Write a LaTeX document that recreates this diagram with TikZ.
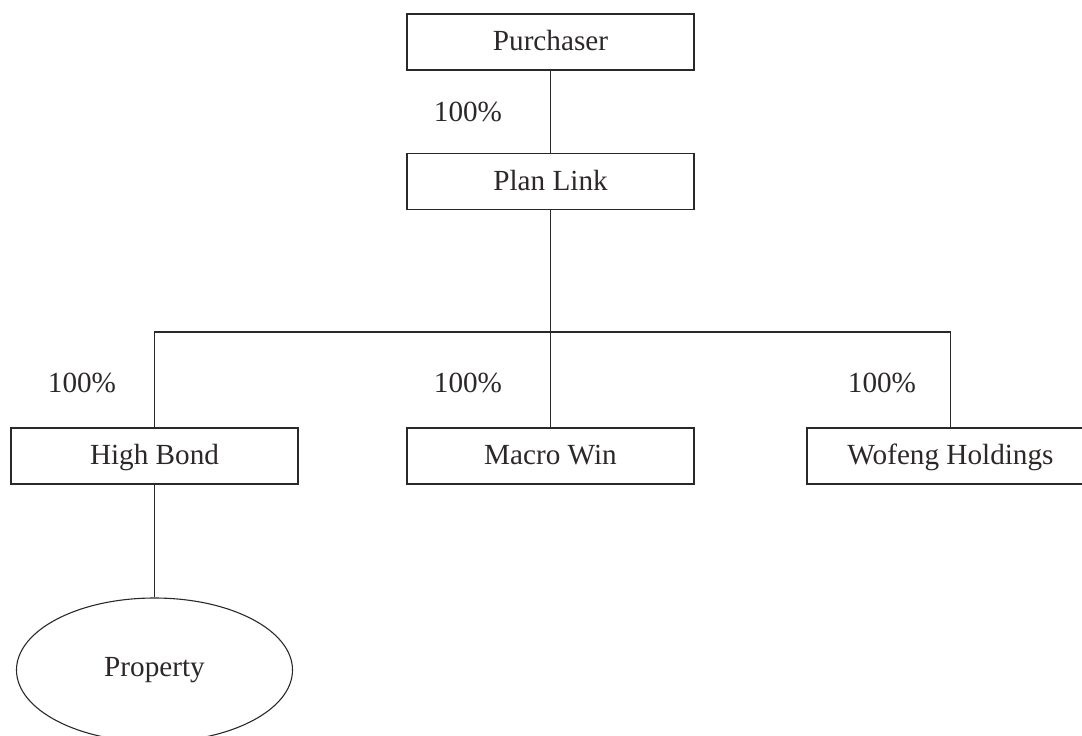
\documentclass[tikz,border=0pt]{standalone}
\usepackage{fontspec}
\setmainfont{Liberation Serif}
\usepackage{xcolor}
\usepackage{tikz}
\usetikzlibrary{positioning, shapes.geometric}

\definecolor{ink}{RGB}{45,40,40}

\begin{document}
\begin{tikzpicture}[x=0.5pt, y=-0.5pt, font=\fontsize{14.6}{17}\selectfont,
  color=ink, line width=0.55pt,
  box/.style={draw, minimum width=143.5pt, minimum height=28pt, inner sep=0pt, text height=1.0em, text depth=0.12em},
  oval/.style={ellipse, draw, minimum width=138pt, minimum height=72pt, inner sep=0pt},
  pct/.style={inner sep=0pt}]
\useasboundingbox (0,0) rectangle (1082,735);

% Top row
\node[box] (pur) at (550.5,42) {Purchaser};
\node[box] (pl) at (550.5,181.5) {Plan Link};

% Middle row
\node[box] (hb) at (154.5,456) {High Bond};
\node[box] (mw) at (550.5,456) {Macro Win};
\node[box] (wh) at (950.5,456) {Wofeng Holdings};

% Bottom row
\node[oval] (prop) at (154.5,670) {Property};

% Shares
\node[pct] (p1) at (468,112) {100\%};
\node[pct] (p2) at (82,383) {100\%};
\node[pct] (p3) at (468,383) {100\%};
\node[pct] (p4) at (882,383) {100\%};

% Lines
\coordinate (bus) at (550.5,332);
\draw (pur) -- (pl);
\draw (pl) -- (bus);
\draw (hb.north) |- (bus) -| (wh.north);
\draw (bus) -- (mw);
\draw (hb) -- (prop);
\end{tikzpicture}
\end{document}
